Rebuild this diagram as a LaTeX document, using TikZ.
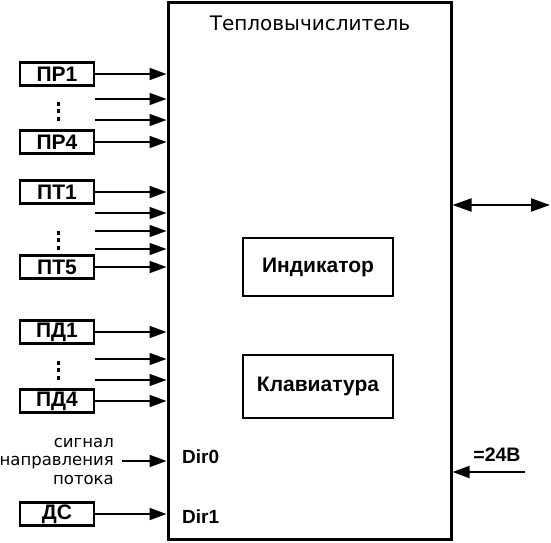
\documentclass[tikz,border=0pt]{standalone}
\usepackage{fontspec}
\setmainfont{Liberation Sans}
\newfontfamily\verdfont{DejaVu Sans}
\usetikzlibrary{positioning, arrows.meta}

\begin{document}
\begin{tikzpicture}[
    x=1pt, y=-1pt,
    font=\fontsize{21}{23}\selectfont\bfseries,
    sensor_style/.style={draw, line width=2.8pt, minimum width=74pt,
      minimum height=23pt, inner sep=0pt},
    unit_style/.style={draw, line width=2.4pt, minimum width=150pt,
      inner sep=0pt},
    wire_style/.style={line width=1.9pt, -{Triangle[length=17pt,width=12pt]}},
    stub_style/.style={line width=1.3pt, -{Triangle[length=17pt,width=12pt]}},
    pin_style/.style={anchor=west, inner sep=0pt,
      font=\fontsize{19}{21}\selectfont\bfseries}
]
    \useasboundingbox (0,0) rectangle (551,542);

    % --- Корпус тепловычислителя ---
    \node[draw, line width=3pt, minimum width=283pt, minimum height=537pt,
          inner sep=0pt] (main) at (309.5,270.5) {};
    \node[font=\verdfont\fontsize{20}{22}\selectfont] (title) at (310,23)
        {Тепловычислитель};

    \node[unit_style, minimum height=58pt] (ind) at (318,267) {Индикатор};
    \node[unit_style, minimum height=63pt] (kbd) at (318,386.5) {Клавиатура};

    % --- Датчики слева ---
    \foreach \name/\lab/\y in {pr1/ПР1/74, pr4/ПР4/142, pt1/ПТ1/192,
      pt5/ПТ5/267, pd1/ПД1/332, pd4/ПД4/401, ds/ДС/514}{
      \node[sensor_style] (\name) at (57,\y) {\lab};
      \draw[wire_style] (\name.east) -- (\name.east -| main.west);
    }

    % промежуточные входы без датчиков
    \foreach \i/\y in {1/99, 2/120, 3/213, 4/231, 5/249, 6/359, 7/380}{
      \coordinate (stub\i) at (95,\y);
      \draw[stub_style] (stub\i) -- (stub\i -| main.west);
    }

    % многоточия
    \foreach \y in {111, 240, 370}{
      \foreach \d in {-7.5, 0, 7.5}{
        \fill (56.5,\y+\d-2) rectangle (59.5,\y+\d+2);
      }
    }

    % --- Направление потока ---
    \node[font=\verdfont\fontsize{16.5}{18.5}\selectfont, align=right,
          anchor=east, inner sep=0pt] (sig) at (114,461)
        {сигнал\\направления\\потока};
    \draw[wire_style, shorten <=8pt] (sig.east) -- (sig.east -| main.west);

    \node[pin_style] (dir0) at (182,457) {Dir0};
    \node[pin_style] (dir1) at (182,517) {Dir1};

    % --- Справа: интерфейс и питание ---
    \coordinate (bus) at (550,205);
    \draw[line width=1.9pt, {Triangle[length=19pt,width=13pt]}-{Triangle[length=19pt,width=13pt]}]
        (bus -| main.east) -- (bus);

    \coordinate (pwr) at (525,472);
    \draw[wire_style] (pwr) -- (pwr -| main.east);
    \node[inner sep=0pt, font=\fontsize{19.5}{21}\selectfont\bfseries]
        (pwrlab) at (497,455) {=24В};

\end{tikzpicture}
\end{document}
